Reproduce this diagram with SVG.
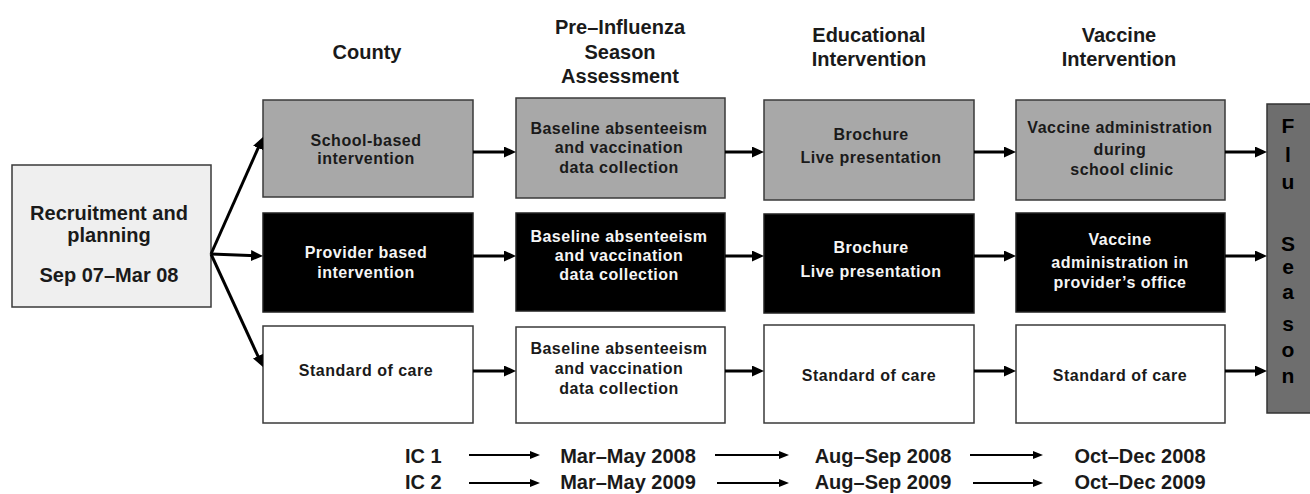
<svg xmlns="http://www.w3.org/2000/svg" width="1310" height="494" viewBox="0 0 1310 494">
<style>
text{font-family:"Liberation Sans",Arial,sans-serif;font-weight:bold;fill:#1a1a1a}
.hd{font-size:20px;text-anchor:middle}
.bx{font-size:16px;letter-spacing:0.5px;text-anchor:middle}
.wt{fill:#f5f5f5}
.tl{font-size:20px}
.mid{text-anchor:middle}
.gray{fill:#a8a8a8;stroke:#3a3a3a;stroke-width:1.5}
.black{fill:#000;stroke:#222;stroke-width:1.5}
.white{fill:#fff;stroke:#3a3a3a;stroke-width:1.5}
.conn{stroke:#000;stroke-width:3;fill:none;marker-end:url(#ah)}
.tconn{stroke:#000;stroke-width:2;fill:none;marker-end:url(#ah2)}
.flu{font-size:21px;text-anchor:middle;fill:#000}
</style>
<defs>
<marker id="ah" markerUnits="userSpaceOnUse" markerWidth="12" markerHeight="11" refX="8" refY="5.5" orient="auto">
<path d="M0,0 L12,5.5 L0,11 z" fill="#000"/>
</marker>
<marker id="ah2" markerUnits="userSpaceOnUse" markerWidth="10" markerHeight="8" refX="7" refY="4" orient="auto">
<path d="M0,0 L10,4 L0,8 z" fill="#000"/>
</marker>
</defs>
<rect width="1310" height="494" fill="#fff"/>

<g id="headers">
<text class="hd" x="367" y="59">County</text>
<text class="hd" x="620" y="34">Pre–Influenza</text>
<text class="hd" x="620" y="59">Season</text>
<text class="hd" x="620" y="83">Assessment</text>
<text class="hd" x="869" y="42">Educational</text>
<text class="hd" x="869" y="66">Intervention</text>
<text class="hd" x="1119" y="42">Vaccine</text>
<text class="hd" x="1119" y="66">Intervention</text>
</g>

<g id="recruitment">
<rect x="12" y="165" width="199" height="142" fill="#efefef" stroke="#3a3a3a" stroke-width="1.5"/>
<text class="tl mid" x="109" y="220">Recruitment and</text>
<text class="tl mid" x="109" y="242">planning</text>
<text class="tl mid" x="109" y="282">Sep 07–Mar 08</text>
</g>

<g id="school-based">
<rect class="gray" x="263" y="100" width="210" height="97"/>
<text class="bx" x="366" y="146">School-based</text>
<text class="bx" x="366" y="164">intervention</text>
</g>
<g id="provider-based">
<rect class="black" x="263" y="213" width="210" height="99"/>
<text class="bx wt" x="366" y="258">Provider based</text>
<text class="bx wt" x="366" y="278">intervention</text>
</g>
<g id="standard-1">
<rect class="white" x="263" y="326" width="210" height="97"/>
<text class="bx" x="366" y="376">Standard of care</text>
</g>

<g id="baseline-1">
<rect class="gray" x="516" y="98" width="209" height="100"/>
<text class="bx" x="619" y="134">Baseline absenteeism</text>
<text class="bx" x="619" y="153">and vaccination</text>
<text class="bx" x="619" y="173">data collection</text>
</g>
<g id="baseline-2">
<rect class="black" x="516" y="213" width="209" height="98"/>
<text class="bx wt" x="619" y="242">Baseline absenteeism</text>
<text class="bx wt" x="619" y="261">and vaccination</text>
<text class="bx wt" x="619" y="280">data collection</text>
</g>
<g id="baseline-3">
<rect class="white" x="516" y="327" width="209" height="96"/>
<text class="bx" x="619" y="354">Baseline absenteeism</text>
<text class="bx" x="619" y="374">and vaccination</text>
<text class="bx" x="619" y="394">data collection</text>
</g>

<g id="education-1">
<rect class="gray" x="764" y="100" width="210" height="100"/>
<text class="bx" x="871" y="140">Brochure</text>
<text class="bx" x="871" y="163">Live presentation</text>
</g>
<g id="education-2">
<rect class="black" x="764" y="214" width="210" height="99"/>
<text class="bx wt" x="871" y="253">Brochure</text>
<text class="bx wt" x="871" y="277">Live presentation</text>
</g>
<g id="education-3">
<rect class="white" x="764" y="325" width="210" height="98"/>
<text class="bx" x="869" y="381">Standard of care</text>
</g>

<g id="vaccine-1">
<rect class="gray" x="1016" y="100" width="209" height="100"/>
<text class="bx" x="1120" y="133">Vaccine administration</text>
<text class="bx" x="1120" y="155">during</text>
<text class="bx" x="1122" y="175">school clinic</text>
</g>
<g id="vaccine-2">
<rect class="black" x="1016" y="213" width="209" height="99"/>
<text class="bx wt" x="1120" y="245">Vaccine</text>
<text class="bx wt" x="1120" y="268">administration in</text>
<text class="bx wt" x="1120" y="288">provider’s office</text>
</g>
<g id="vaccine-3">
<rect class="white" x="1016" y="325" width="209" height="98"/>
<text class="bx" x="1120" y="381">Standard of care</text>
</g>

<g id="flu-season">
<rect x="1267" y="104" width="60" height="309" fill="#6e6e6e" stroke="#333" stroke-width="1.5"/>
<text class="flu" x="1288" y="133">F</text>
<text class="flu" x="1288" y="162">l</text>
<text class="flu" x="1288" y="189">u</text>
<text class="flu" x="1288" y="251">S</text>
<text class="flu" x="1288" y="274">e</text>
<text class="flu" x="1288" y="299">a</text>
<text class="flu" x="1288" y="331">s</text>
<text class="flu" x="1288" y="357">o</text>
<text class="flu" x="1288" y="383">n</text>
</g>

<g id="connectors">
<line class="conn" x1="211" y1="254" x2="261.4" y2="140.7"/>
<line class="conn" x1="211" y1="254" x2="259" y2="255.8"/>
<line class="conn" x1="211" y1="254" x2="261.3" y2="363.4"/>
<line class="conn" x1="473" y1="152" x2="512" y2="152"/>
<line class="conn" x1="473" y1="256" x2="512" y2="256"/>
<line class="conn" x1="473" y1="371" x2="512" y2="371"/>
<line class="conn" x1="725" y1="152" x2="760" y2="152"/>
<line class="conn" x1="725" y1="256" x2="760" y2="256"/>
<line class="conn" x1="725" y1="371" x2="760" y2="371"/>
<line class="conn" x1="974" y1="152" x2="1012" y2="152"/>
<line class="conn" x1="974" y1="256" x2="1012" y2="256"/>
<line class="conn" x1="974" y1="371" x2="1012" y2="371"/>
<line class="conn" x1="1225" y1="152" x2="1263" y2="152"/>
<line class="conn" x1="1225" y1="256" x2="1263" y2="256"/>
<line class="conn" x1="1225" y1="371" x2="1263" y2="371"/>
<line class="tconn" x1="469" y1="455" x2="537" y2="455"/>
<line class="tconn" x1="715" y1="455" x2="786" y2="455"/>
<line class="tconn" x1="970" y1="455" x2="1040" y2="455"/>
<line class="tconn" x1="469" y1="483" x2="537" y2="483"/>
<line class="tconn" x1="717" y1="483" x2="786" y2="483"/>
<line class="tconn" x1="973" y1="483" x2="1040" y2="483"/>
</g>

<g id="timeline">
<text class="tl" x="405" y="463">IC 1</text>
<text class="tl mid" x="628" y="463">Mar–May 2008</text>
<text class="tl mid" x="883" y="463">Aug–Sep 2008</text>
<text class="tl mid" x="1140" y="463">Oct–Dec 2008</text>
<text class="tl" x="405" y="489">IC 2</text>
<text class="tl mid" x="628" y="489">Mar–May 2009</text>
<text class="tl mid" x="883" y="489">Aug–Sep 2009</text>
<text class="tl mid" x="1140" y="489">Oct–Dec 2009</text>
</g>
</svg>
